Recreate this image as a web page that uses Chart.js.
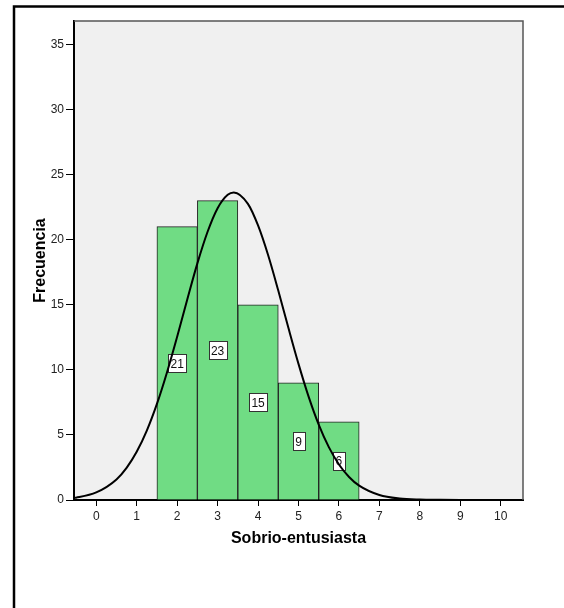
<!DOCTYPE html>
<html lang="es">
<head>
<meta charset="utf-8">
<script src="https://cdn.jsdelivr.net/npm/chart.js@4"></script>
<style>
    body { margin: 0; background: #fff; }
    #wrap { width: 564px; height: 608px; }
</style>
</head>
<body>
<div id="wrap"><canvas id="histo" width="564" height="608"></canvas></div>

<script>
    // histogram bins
    const binCenters = [2, 3, 4, 5, 6];
    const frequencies = [21, 23, 15, 9, 6];

    // normal curve over the histogram
    const curveX = [-0.55, -0.5, 0, 0.5, 0.75, 1, 1.25, 1.5, 1.75, 2, 2.25, 2.5, 2.75, 3, 3.25, 3.4,
                    3.75, 4, 4.25, 4.5, 4.75, 5, 5.25, 5.5, 5.75, 6, 6.25, 6.5, 7, 7.5, 8, 8.5, 9, 10.55];
    const curveY = [0.16, 0.18, 0.58, 1.58, 2.47, 3.7, 5.33, 7.38, 9.82, 12.55, 15.41, 18.18, 20.59, 22.42, 23.45, 23.63,
                    22.75, 21.09, 18.8, 16.09, 13.23, 10.46, 7.94, 5.79, 4.06, 2.73, 1.77, 1.1, 0.38, 0.11, 0.03, 0.01, 0, 0];

    const xTicks = [0, 1, 2, 3, 4, 5, 6, 7, 8, 9, 10];
    const yTicks = [0, 5, 10, 15, 20, 25, 30, 35];

    const FONT = '"Liberation Sans", Arial, sans-serif';

    const frame = {
        id: 'frame',
        beforeDraw(chart) {
            const { ctx, chartArea: a } = chart;
            ctx.save();
            ctx.fillStyle = '#f0f0f0';
            ctx.fillRect(a.left, a.top, a.right - a.left, a.bottom - a.top);
            ctx.strokeStyle = '#000';
            ctx.lineWidth = 2.5;
            ctx.beginPath();
            ctx.moveTo(14, 608);
            ctx.lineTo(14, 6.5);
            ctx.lineTo(564, 6.5);
            ctx.stroke();
            ctx.restore();
        },
        afterDatasetDraw(chart, args) {
            if (args.meta.type !== 'bar') return;
            // value boxes in the middle of each bar
            const ctx = chart.ctx;
            const y = chart.scales.y;
            ctx.save();
            ctx.font = '12px ' + FONT;
            ctx.textAlign = 'center';
            ctx.textBaseline = 'middle';
            args.meta.data.forEach((bar, i) => {
                const v = frequencies[i];
                const cy = y.getPixelForValue(v / 2);
                const w = Math.round(ctx.measureText(String(v)).width + 5);
                const h = 18;
                const left = Math.round(bar.x - w / 2);
                const top = Math.round(cy - h / 2);
                ctx.fillStyle = '#fff';
                ctx.fillRect(left, top, w, h);
                ctx.strokeStyle = '#333';
                ctx.lineWidth = 1;
                ctx.strokeRect(left + 0.5, top + 0.5, w, h);
                ctx.fillStyle = '#111';
                ctx.fillText(String(v), bar.x, cy + 1);
            });
            ctx.restore();
        },
        afterDraw(chart) {
            const { ctx, chartArea: a } = chart;
            ctx.save();
            ctx.strokeStyle = '#555';
            ctx.lineWidth = 1.5;
            ctx.beginPath();
            ctx.moveTo(a.left, a.top);
            ctx.lineTo(a.right, a.top);
            ctx.lineTo(a.right, a.bottom);
            ctx.stroke();

            ctx.fillStyle = '#000';
            ctx.font = 'bold 16px ' + FONT;
            ctx.textAlign = 'center';
            ctx.textBaseline = 'alphabetic';
            ctx.fillText('Sobrio-entusiasta', (a.left + a.right) / 2, 543);
            ctx.translate(45, (a.top + a.bottom) / 2);
            ctx.rotate(-Math.PI / 2);
            ctx.fillText('Frecuencia', 0, 0);
            ctx.restore();
        }
    };

    new Chart(document.getElementById('histo').getContext('2d'), {
        data: {
            datasets: [{
                type: 'line',
                data: curveX.map((x, i) => ({ x: x, y: curveY[i] })),
                borderColor: '#000',
                borderWidth: 2,
                pointRadius: 0,
                fill: false,
                cubicInterpolationMode: 'monotone',
                order: 0
            }, {
                type: 'bar',
                data: binCenters.map((x, i) => ({ x: x, y: frequencies[i] })),
                backgroundColor: '#70dc84',
                borderColor: '#222',
                borderWidth: 1,
                barPercentage: 1,
                categoryPercentage: 1,
                order: 1
            }]
        },
        options: {
            responsive: false,
            animation: false,
            layout: { padding: { top: 21, right: 41, left: 0, bottom: 0 } },
            plugins: {
                legend: { display: false },
                tooltip: { enabled: false }
            },
            scales: {
                x: {
                    type: 'linear',
                    min: -0.55,
                    max: 10.55,
                    offset: false,
                    afterBuildTicks: s => { s.ticks = xTicks.map(v => ({ value: v })); },
                    afterFit: s => { s.height = 108; },
                    border: { color: '#000', width: 2 },
                    grid: { offset: false, drawOnChartArea: false, drawTicks: true, tickLength: 6, color: '#000', lineWidth: 1 },
                    ticks: { color: '#222', font: { family: FONT, size: 12 }, padding: 3, maxRotation: 0 }
                },
                y: {
                    min: 0,
                    max: 36.8,
                    afterBuildTicks: s => { s.ticks = yTicks.map(v => ({ value: v })); },
                    afterFit: s => { s.width = 74; },
                    border: { color: '#000', width: 2 },
                    grid: { drawOnChartArea: false, drawTicks: true, tickLength: 8, color: '#000', lineWidth: 1 },
                    ticks: { color: '#222', font: { family: FONT, size: 12 }, padding: 2 }
                }
            }
        },
        plugins: [frame]
    });
</script>
</body>
</html>
